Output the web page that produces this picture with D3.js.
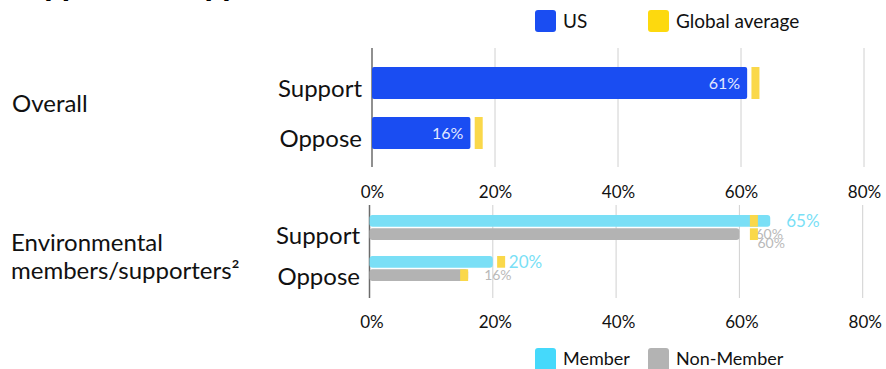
<!DOCTYPE html>
<html><head><meta charset="utf-8">
<script src="https://cdn.jsdelivr.net/npm/d3@7"></script>
<style>
html,body{margin:0;padding:0;background:#fff;}
svg{display:block;font-family:Lato,"Noto Sans",sans-serif;}
</style></head>
<body><svg id="c" width="886" height="369"></svg>
<script>
// ---- data ----
const titleText = "Support and opposition";
const categories = ["Support", "Oppose"];
const usValues = [61, 16];
const globalTop = [63, 18];
const envSeries = ["Member", "Non-Member"];
const memberValues = [65, 20];
const nonMemberValues = [60, 16];
const globalMember = [63, 22];
const globalNonMember = [63, 16];
const tickValues = [0, 20, 40, 60, 80];
const groupTop = ["Overall"];
const groupBottom = ["Environmental", "members/supporters²"];
const legendTop = ["US", "Global average"];

const C = {blue:"#1a4df2", yellow:"#fad84a", yellowLeg:"#fdd90e", cyan:"#7adff6", cyanLeg:"#45d9fb",
  gray:"#b3b3b3", grayLbl:"#b9b9b9", grid:"#d0d0d0", axis:"#6b6b6b", text:"#111"};

const svg = d3.select("#c");

// title (cut off at top)
svg.append("text").attr("x", 10).attr("y", -4.5).attr("font-size", 31).attr("font-weight", 900)
  .attr("fill", "#000").text(titleText);

// ---- top chart ----
const xTop = d3.scaleLinear().domain([0, 80]).range([372, 864]);
const yTop = d3.scaleBand().domain(categories).range([58, 158]).paddingInner(0.36).paddingOuter(0.18);

const gTop = svg.append("g");
gTop.selectAll("line.grid").data(tickValues.slice(1)).join("line")
  .attr("x1", d => xTop(d)).attr("x2", d => xTop(d)).attr("y1", 48).attr("y2", 167)
  .attr("stroke", C.grid).attr("stroke-width", 1);
gTop.append("line").attr("x1", xTop(0)).attr("x2", xTop(0)).attr("y1", 48).attr("y2", 167)
  .attr("stroke", C.axis).attr("stroke-width", 1.5);

const axTop = d3.axisBottom(xTop).tickValues(tickValues).tickFormat(d => d + "%").tickSize(0).tickPadding(0);
const axTopG = svg.append("g").attr("transform", "translate(0,185)").call(axTop);
axTopG.select(".domain").remove();
axTopG.selectAll("text").attr("font-size", 17).attr("font-family", "Lato").attr("fill", C.text).attr("dy", "0.75em");

gTop.selectAll("rect.us").data(usValues).join("rect")
  .attr("x", xTop(0)).attr("y", (d, i) => yTop(categories[i]))
  .attr("width", d => xTop(d) - xTop(0)).attr("height", yTop.bandwidth())
  .attr("rx", 2).attr("fill", C.blue);
gTop.selectAll("rect.avg").data(globalTop).join("rect")
  .attr("x", d => xTop(d) - 8).attr("y", (d, i) => yTop(categories[i]))
  .attr("width", 8).attr("height", yTop.bandwidth()).attr("fill", C.yellow);
gTop.selectAll("text.val").data(usValues).join("text")
  .attr("x", d => xTop(d) - 7).attr("y", (d, i) => yTop(categories[i]) + yTop.bandwidth() / 2)
  .attr("dy", "0.35em").attr("text-anchor", "end").attr("font-size", 16).attr("fill", "#e3e9ff")
  .text(d => d + "%");
gTop.selectAll("text.cat").data(categories).join("text")
  .attr("x", 362).attr("y", d => yTop(d) + yTop.bandwidth() / 2 + 6)
  .attr("dy", "0.35em").attr("text-anchor", "end").attr("font-size", 24).attr("fill", C.text).text(d => d);

svg.append("text").attr("x", 12).attr("y", 104).attr("dy", "0.35em").attr("font-size", 24)
  .attr("fill", C.text).text(groupTop[0]);

// top legend
const legTopColors = [C.blue, C.yellowLeg];
const legX = [535, 648];
legendTop.forEach((t, i) => {
  svg.append("rect").attr("x", legX[i]).attr("y", 10).attr("width", 21).attr("height", 22).attr("rx", 3).attr("fill", legTopColors[i]);
  svg.append("text").attr("x", legX[i] + 28).attr("y", 21).attr("dy", "0.35em").attr("font-size", 19).attr("fill", C.text).text(t);
});

// ---- bottom chart ----
const xBot = d3.scaleLinear().domain([0, 80]).range([369.5, 862.7]);
const yBot = d3.scaleBand().domain(categories).range([205, 291]).paddingInner(0.39).paddingOuter(0.244);
const ySub = d3.scaleBand().domain(envSeries).range([0, yBot.bandwidth()]).paddingInner(0.12);

const gBot = svg.append("g");
gBot.selectAll("line.grid").data(tickValues.slice(1)).join("line")
  .attr("x1", d => xBot(d)).attr("x2", d => xBot(d)).attr("y1", 205).attr("y2", 298)
  .attr("stroke", C.grid).attr("stroke-width", 1);
gBot.append("line").attr("x1", xBot(0)).attr("x2", xBot(0)).attr("y1", 205).attr("y2", 298)
  .attr("stroke", C.axis).attr("stroke-width", 1.5);

const axBot = d3.axisBottom(xBot).tickValues(tickValues).tickFormat(d => d + "%").tickSize(0).tickPadding(0);
const axBotG = svg.append("g").attr("transform", "translate(2,315)").call(axBot);
axBotG.select(".domain").remove();
axBotG.selectAll("text").attr("font-size", 17).attr("font-family", "Lato").attr("fill", C.text).attr("dy", "0.75em");

const series = [
  {name: "Member", values: memberValues, avg: globalMember, color: C.cyan, lbl: C.cyan, fs: 17},
  {name: "Non-Member", values: nonMemberValues, avg: globalNonMember, color: C.gray, lbl: C.grayLbl, fs: 14}
];
series.forEach(s => {
  const yy = i => yBot(categories[i]) + ySub(s.name);
  gBot.selectAll(null).data(s.values).join("rect")
    .attr("x", xBot(0)).attr("y", (d, i) => yy(i))
    .attr("width", d => xBot(d) - xBot(0)).attr("height", ySub.bandwidth()).attr("rx", 3).attr("fill", s.color);
  gBot.selectAll(null).data(s.values).join("text")
    .attr("x", d => xBot(d) + 16).attr("y", (d, i) => yy(i) + ySub.bandwidth() / 2)
    .attr("dy", "0.35em").attr("font-size", s.fs).attr("fill", s.lbl).text(d => d + "%");
  if (s.name === "Non-Member") {
    gBot.append("text").attr("x", xBot(s.values[0]) + 18).attr("y", yy(0) + ySub.bandwidth() / 2 + 9)
      .attr("dy", "0.35em").attr("font-size", s.fs).attr("fill", s.lbl).text(s.values[0] + "%");
  }
  gBot.selectAll(null).data(s.avg).join("rect")
    .attr("x", d => xBot(d) - 8).attr("y", (d, i) => yy(i))
    .attr("width", 8).attr("height", ySub.bandwidth()).attr("fill", C.yellow);
});

gBot.selectAll("text.cat").data(categories).join("text")
  .attr("x", 360).attr("y", d => yBot(d) + yBot.bandwidth() / 2 + 8)
  .attr("dy", "0.35em").attr("text-anchor", "end").attr("font-size", 24).attr("fill", C.text).text(d => d);

groupBottom.forEach((t, i) => {
  svg.append("text").attr("x", 11).attr("y", 243 + i * 28).attr("dy", "0.35em").attr("font-size", 24)
    .attr("fill", C.text).text(t);
});

// bottom legend
const legBotColors = [C.cyanLeg, C.gray];
envSeries.forEach((t, i) => {
  svg.append("rect").attr("x", legX[i]).attr("y", 348).attr("width", 21).attr("height", 24).attr("rx", 3).attr("fill", legBotColors[i]);
  svg.append("text").attr("x", legX[i] + 28).attr("y", 359).attr("dy", "0.35em").attr("font-size", 18).attr("fill", C.text).text(t);
});
</script></body></html>
